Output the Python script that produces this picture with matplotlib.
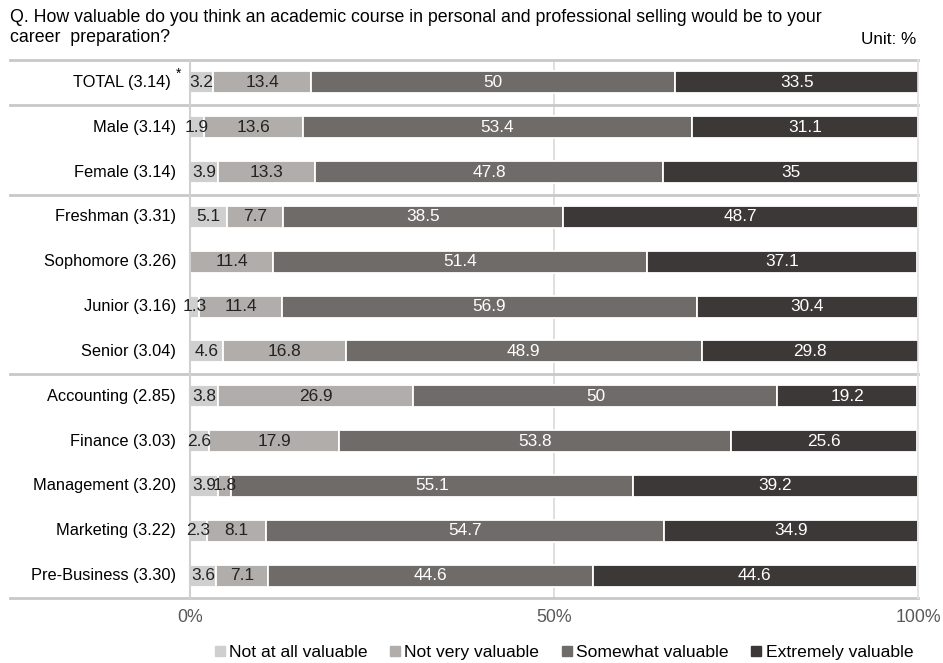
"""
Stacked horizontal bar chart: value of a personal selling course.
"""

import matplotlib as mpl

mpl.use("Agg")

import matplotlib.pyplot as plt
import numpy as np
from matplotlib.lines import Line2D
from matplotlib.transforms import blended_transform_factory

plt.rcParams["font.family"] = ["Liberation Sans", "DejaVu Sans"]

categories = [
    "TOTAL (3.14)", "Male (3.14)", "Female (3.14)", "Freshman (3.31)",
    "Sophomore (3.26)", "Junior (3.16)", "Senior (3.04)", "Accounting (2.85)",
    "Finance (3.03)", "Management (3.20)", "Marketing (3.22)", "Pre-Business (3.30)",
]
series_names = ["Not at all valuable", "Not very valuable", "Somewhat valuable", "Extremely valuable"]
not_at_all = [3.2, 1.9, 3.9, 5.1, 0, 1.3, 4.6, 3.8, 2.6, 3.9, 2.3, 3.6]
not_very = [13.4, 13.6, 13.3, 7.7, 11.4, 11.4, 16.8, 26.9, 17.9, 1.8, 8.1, 7.1]
somewhat = [50, 53.4, 47.8, 38.5, 51.4, 56.9, 48.9, 50, 53.8, 55.1, 54.7, 44.6]
extremely = [33.5, 31.1, 35, 48.7, 37.1, 30.4, 29.8, 19.2, 25.6, 39.2, 34.9, 44.6]
group_breaks = [0.5, 2.5, 6.5]
x_ticks = [0, 50, 100]
x_tick_labels = ["0%", "50%", "100%"]

colors = ["#d0cfcf", "#b0adab", "#6f6b69", "#3b3837"]
text_colors = ["#222222", "#222222", "white", "white"]


def main():
    fig = plt.figure(figsize=(9.43, 6.63), dpi=100)
    W, H = 943, 663
    ax = fig.add_axes([190 / W, 1 - 598 / H, 728 / W, 538 / H])

    y = np.arange(len(categories))
    left = np.zeros(len(categories))
    for values, color, tcolor in zip([not_at_all, not_very, somewhat, extremely], colors, text_colors):
        values = np.array(values, dtype=float)
        ax.barh(y, values, left=left, height=0.49, color=color, edgecolor="white", linewidth=1.3, zorder=2)
        for yi, li, v in zip(y, left, values):
            if v > 0:
                ax.text(li + v / 2, yi, f"{v:g}", ha="center", va="center", fontsize=12.4, color=tcolor, zorder=3)
        left += values

    ax.set_xlim(0, 100)
    ax.set_ylim(len(categories) - 0.5, -0.5)
    ax.set_yticks([])
    ax.set_xticks(x_ticks)
    ax.set_xticklabels(x_tick_labels, color="#595959", fontsize=12.8)
    ax.tick_params(axis="x", length=0, pad=8)
    ax.grid(axis="x", color="#d9d9d9", linewidth=1.2, zorder=0)
    ax.set_axisbelow(True)
    for side in ["top", "bottom"]:
        ax.spines[side].set_visible(False)
    ax.spines["left"].set_color("#d0d0d0")
    ax.spines["left"].set_linewidth(1.5)
    ax.spines["right"].set_color("#e3e3e3")
    ax.spines["right"].set_linewidth(1.2)

    trans = blended_transform_factory(ax.transAxes, ax.transData)
    x0 = (10 - 190) / 728
    for yb in [-0.5] + group_breaks + [len(categories) - 0.5]:
        ax.plot([x0, 1], [yb, yb], transform=trans, color="#c8c8c8", linewidth=2, clip_on=False, zorder=1)

    label_x = (176 - 190) / 728
    for yi, name in zip(y, categories):
        if yi == 0:
            ax.text((171 - 190) / 728, yi, name, transform=trans, ha="right", va="center", fontsize=11.8)
            ax.text((176 - 190) / 728, yi - 0.2, "*", transform=trans, ha="left", va="center", fontsize=10)
        else:
            ax.text(label_x, yi, name, transform=trans, ha="right", va="center", fontsize=11.8)

    fig.text(10 / W, 1 - 9 / H,
             "Q. How valuable do you think an academic course in personal and professional selling would be to your\n"
             "career  preparation?", ha="left", va="top", fontsize=12.8, linespacing=1.25)
    fig.text(916 / W, 1 - 39 / H, "Unit: %", ha="right", va="center", fontsize=12.3)

    handles = [Line2D([], [], marker="s", linestyle="none", markersize=7, color=c) for c in colors]
    fig.legend(handles, series_names, loc="center", bbox_to_anchor=(562 / W, 1 - 652 / H), ncol=4,
               frameon=False, fontsize=12.6, handletextpad=0.05, columnspacing=1.05, handlelength=1.0)

    fig.savefig("out.png", dpi=100)
    plt.close(fig)


if __name__ == "__main__":
    main()
